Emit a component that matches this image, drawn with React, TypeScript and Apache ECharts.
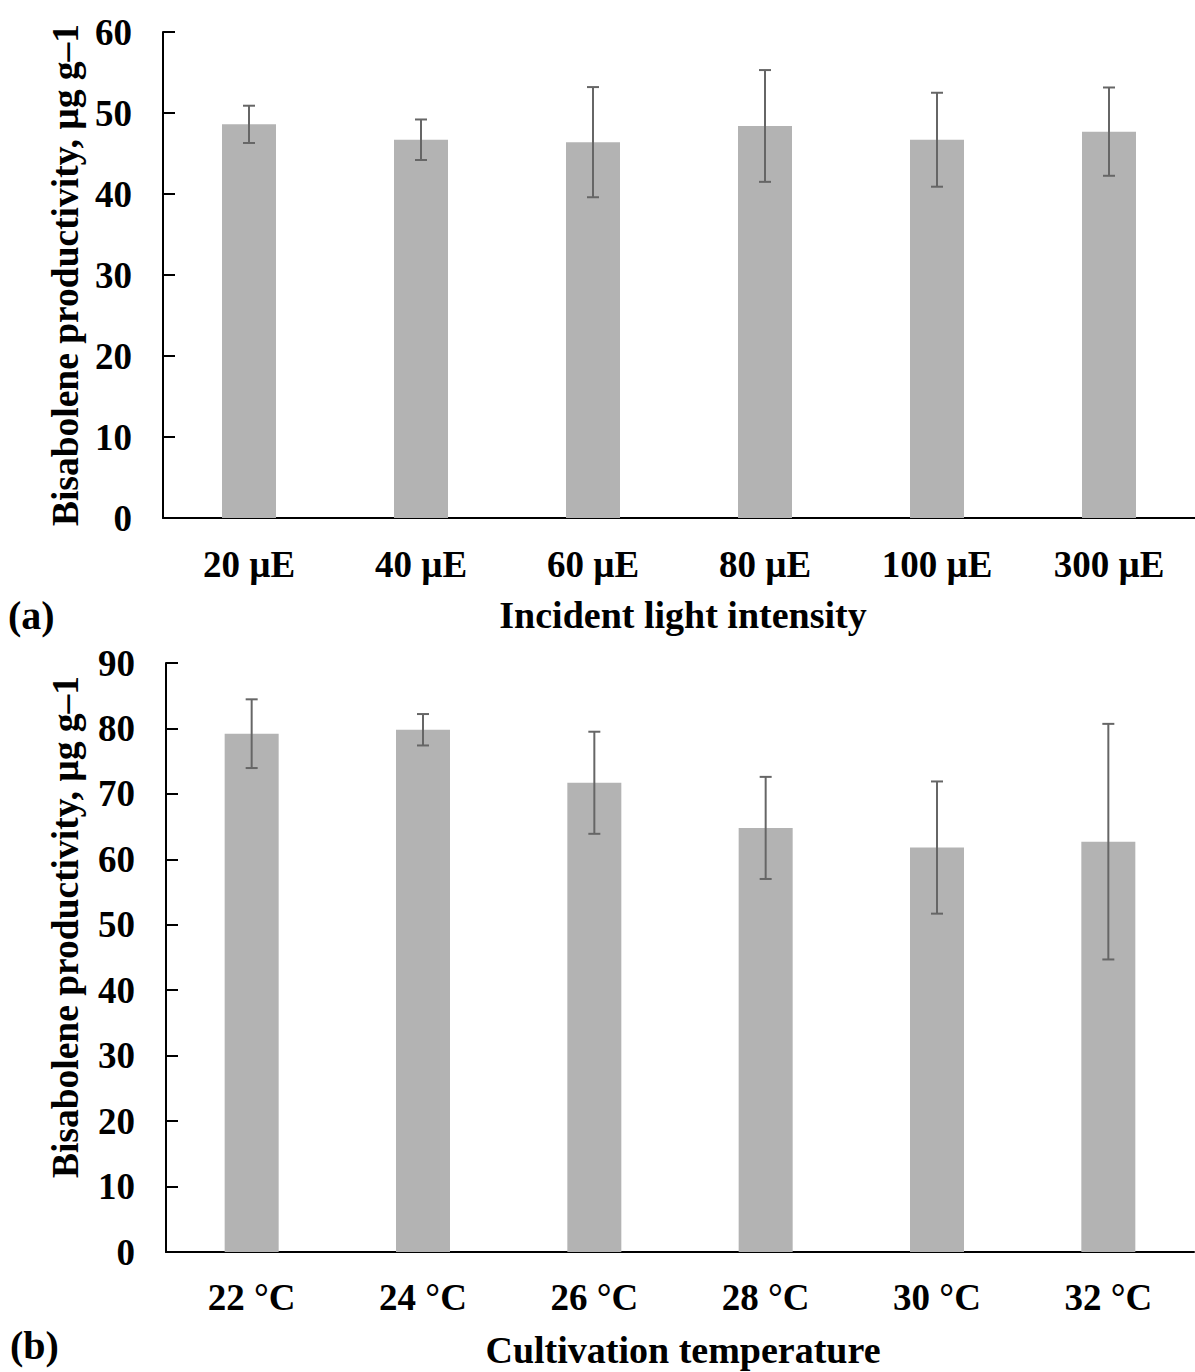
import React, { useEffect, useRef } from "react";
import * as echarts from "echarts";

const lightCategories = ["20 µE", "40 µE", "60 µE", "80 µE", "100 µE", "300 µE"];
const lightValues = [48.6, 46.7, 46.4, 48.4, 46.7, 47.7];
const lightErrors = [2.3, 2.5, 6.8, 6.9, 5.8, 5.45];

const tempCategories = ["22 °C", "24 °C", "26 °C", "28 °C", "30 °C", "32 °C"];
const tempValues = [79.2, 79.8, 71.7, 64.8, 61.8, 62.7];
const tempErrors = [5.25, 2.4, 7.8, 7.8, 10.1, 18.0];

const yTitle = "Bisabolene productivity, µg g–1";
const xTitleA = "Incident light intensity";
const xTitleB = "Cultivation temperature";

const FONT = "'Liberation Serif', 'Times New Roman', serif";

function errorRender(params: any, api: any) {
  const x = api.value(0);
  const v = api.value(1);
  const e = api.value(2);
  const top = api.coord([x, v + e]);
  const bot = api.coord([x, v - e]);
  const hw = 6;
  const style = { stroke: "#666666", lineWidth: 2 };
  return {
    type: "group",
    children: [
      { type: "line", shape: { x1: top[0], y1: top[1], x2: bot[0], y2: bot[1] }, style },
      { type: "line", shape: { x1: top[0] - hw, y1: top[1], x2: top[0] + hw, y2: top[1] }, style },
      { type: "line", shape: { x1: bot[0] - hw, y1: bot[1], x2: bot[0] + hw, y2: bot[1] }, style },
    ],
  };
}

function xAxisCfg(gridIndex: number, data: string[], margin: number) {
  return {
    type: "category",
    gridIndex,
    data,
    axisLine: { show: true, lineStyle: { color: "#000", width: 2 } },
    axisTick: { show: false },
    axisLabel: {
      interval: 0,
      margin,
      verticalAlign: "middle",
      fontFamily: FONT,
      fontWeight: "bold",
      fontSize: 37,
      color: "#000",
    },
  };
}

function yAxisCfg(gridIndex: number, max: number) {
  return {
    type: "value",
    gridIndex,
    min: 0,
    max,
    interval: 10,
    axisLine: { show: true, lineStyle: { color: "#000", width: 2 } },
    axisTick: { show: true, inside: true, length: 12, lineStyle: { color: "#000", width: 2 } },
    splitLine: { show: false },
    axisLabel: {
      margin: 31,
      fontFamily: FONT,
      fontWeight: "bold",
      fontSize: 37,
      color: "#000",
    },
  };
}

function textEl(text: string, x: number, y: number, size: number, align: string, rotation = 0) {
  return {
    type: "text",
    x,
    y,
    rotation,
    style: {
      text,
      fontFamily: FONT,
      fontWeight: "bold",
      fontSize: size,
      fill: "#000",
      align,
      verticalAlign: "middle",
    },
  };
}

export default function App() {
  const ref = useRef<HTMLDivElement>(null);
  useEffect(() => {
    if (!ref.current) return;
    const chart = echarts.init(ref.current, undefined, { renderer: "svg" });
    chart.setOption({
      animation: false,
      backgroundColor: "#ffffff",
      grid: [
        { left: 163, top: 32, width: 1044, height: 486 },
        { left: 166, top: 663, width: 1028, height: 589 },
      ],
      xAxis: [xAxisCfg(0, lightCategories, 46), xAxisCfg(1, tempCategories, 45)],
      yAxis: [yAxisCfg(0, 60), yAxisCfg(1, 90)],
      series: [
        {
          type: "bar",
          xAxisIndex: 0,
          yAxisIndex: 0,
          data: lightValues,
          barWidth: 54,
          itemStyle: { color: "#b3b3b3" },
          silent: true,
        },
        {
          type: "custom",
          xAxisIndex: 0,
          yAxisIndex: 0,
          renderItem: errorRender,
          encode: { x: 0, y: 1 },
          data: lightValues.map((v, i) => [i, v, lightErrors[i]]),
          z: 10,
          silent: true,
        },
        {
          type: "bar",
          xAxisIndex: 1,
          yAxisIndex: 1,
          data: tempValues,
          barWidth: 54,
          itemStyle: { color: "#b3b3b3" },
          silent: true,
        },
        {
          type: "custom",
          xAxisIndex: 1,
          yAxisIndex: 1,
          renderItem: errorRender,
          encode: { x: 0, y: 1 },
          data: tempValues.map((v, i) => [i, v, tempErrors[i]]),
          z: 10,
          silent: true,
        },
      ],
      graphic: [
        textEl("(a)", 8, 615, 40, "left"),
        textEl(xTitleA, 683, 615, 38, "center"),
        textEl("(b)", 10, 1345, 40, "left"),
        textEl(xTitleB, 683, 1350, 38, "center"),
        textEl(yTitle, 65, 275, 37.5, "center", Math.PI / 2),
        textEl(yTitle, 65, 927, 37.5, "center", Math.PI / 2),
      ],
    });
    return () => chart.dispose();
  }, []);
  return (
    <div
      ref={ref}
      style={{ position: "absolute", left: 0, top: 0, width: 1195, height: 1372, background: "#fff" }}
    />
  );
}
